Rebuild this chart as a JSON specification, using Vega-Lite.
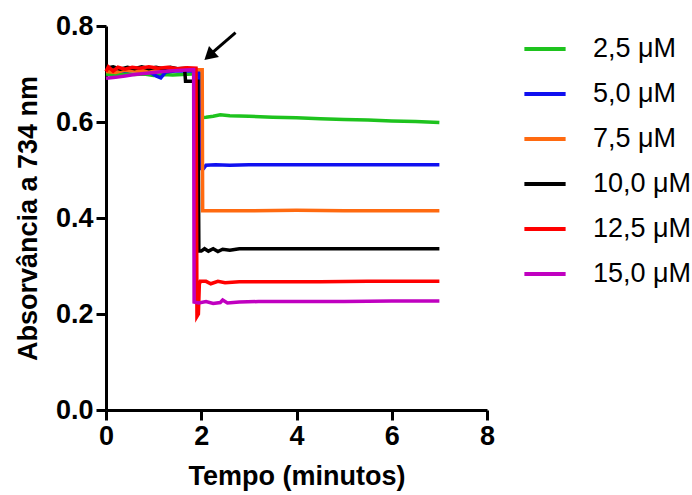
{
  "$schema": "https://vega.github.io/schema/vega-lite/v6.json",
  "width": 381,
  "height": 384,
  "autosize": "none",
  "padding": {"left": 106, "top": 26, "right": 205, "bottom": 85},
  "background": "white",
  "config": {
    "view": {"stroke": null},
    "font": "Liberation Sans",
    "axis": {
      "grid": false,
      "domainColor": "black",
      "domainWidth": 3,
      "tickColor": "black",
      "tickWidth": 3,
      "tickSize": 10,
      "labelFont": "Liberation Sans",
      "labelFontWeight": "bold",
      "labelFontSize": 27,
      "labelColor": "black",
      "labelPadding": 3,
      "labelFlush": false,
      "labelOverlap": false,
      "titleFont": "Liberation Sans",
      "titleFontWeight": "bold",
      "titleFontSize": 27,
      "titleColor": "black"
    },
    "legend": {
      "orient": "none",
      "legendX": 416,
      "legendY": 0,
      "title": null,
      "symbolType": "stroke",
      "symbolStrokeWidth": 4,
      "symbolSize": 1700,
      "labelFont": "Liberation Sans",
      "labelFontSize": 27,
      "labelColor": "black",
      "labelOffset": 25,
      "rowPadding": 9
    }
  },
  "datasets": {
    "curves": [
      {"c": "2,5 μM", "t": 0, "a": 0.700}, {"c": "2,5 μM", "t": 0.2, "a": 0.698}, {"c": "2,5 μM", "t": 0.4, "a": 0.701}, {"c": "2,5 μM", "t": 0.6, "a": 0.699}, {"c": "2,5 μM", "t": 0.8, "a": 0.700}, {"c": "2,5 μM", "t": 1.0, "a": 0.697}, {"c": "2,5 μM", "t": 1.2, "a": 0.699}, {"c": "2,5 μM", "t": 1.4, "a": 0.698}, {"c": "2,5 μM", "t": 1.6, "a": 0.699}, {"c": "2,5 μM", "t": 1.8, "a": 0.700}, {"c": "2,5 μM", "t": 1.98, "a": 0.700}, {"c": "2,5 μM", "t": 2.0, "a": 0.609}, {"c": "2,5 μM", "t": 2.1, "a": 0.610}, {"c": "2,5 μM", "t": 2.25, "a": 0.612}, {"c": "2,5 μM", "t": 2.4, "a": 0.615}, {"c": "2,5 μM", "t": 2.6, "a": 0.613}, {"c": "2,5 μM", "t": 3.0, "a": 0.612}, {"c": "2,5 μM", "t": 3.5, "a": 0.610}, {"c": "2,5 μM", "t": 4.0, "a": 0.609}, {"c": "2,5 μM", "t": 4.5, "a": 0.607}, {"c": "2,5 μM", "t": 5.0, "a": 0.605}, {"c": "2,5 μM", "t": 5.5, "a": 0.604}, {"c": "2,5 μM", "t": 6.0, "a": 0.602}, {"c": "2,5 μM", "t": 6.5, "a": 0.601}, {"c": "2,5 μM", "t": 7.0, "a": 0.599},

      {"c": "5,0 μM", "t": 0, "a": 0.707}, {"c": "5,0 μM", "t": 0.3, "a": 0.706}, {"c": "5,0 μM", "t": 0.6, "a": 0.708}, {"c": "5,0 μM", "t": 0.9, "a": 0.705}, {"c": "5,0 μM", "t": 1.05, "a": 0.696}, {"c": "5,0 μM", "t": 1.15, "a": 0.692}, {"c": "5,0 μM", "t": 1.25, "a": 0.704}, {"c": "5,0 μM", "t": 1.5, "a": 0.707}, {"c": "5,0 μM", "t": 1.8, "a": 0.706}, {"c": "5,0 μM", "t": 1.95, "a": 0.707}, {"c": "5,0 μM", "t": 1.97, "a": 0.503}, {"c": "5,0 μM", "t": 2.05, "a": 0.503}, {"c": "5,0 μM", "t": 2.1, "a": 0.510}, {"c": "5,0 μM", "t": 2.3, "a": 0.511}, {"c": "5,0 μM", "t": 2.6, "a": 0.510}, {"c": "5,0 μM", "t": 3.0, "a": 0.511}, {"c": "5,0 μM", "t": 4.0, "a": 0.511}, {"c": "5,0 μM", "t": 5.0, "a": 0.511}, {"c": "5,0 μM", "t": 6.0, "a": 0.511}, {"c": "5,0 μM", "t": 7.0, "a": 0.511},

      {"c": "7,5 μM", "t": 0, "a": 0.705}, {"c": "7,5 μM", "t": 0.2, "a": 0.703}, {"c": "7,5 μM", "t": 0.4, "a": 0.708}, {"c": "7,5 μM", "t": 0.7, "a": 0.706}, {"c": "7,5 μM", "t": 1.0, "a": 0.709}, {"c": "7,5 μM", "t": 1.3, "a": 0.708}, {"c": "7,5 μM", "t": 1.6, "a": 0.710}, {"c": "7,5 μM", "t": 1.9, "a": 0.709}, {"c": "7,5 μM", "t": 2.02, "a": 0.709}, {"c": "7,5 μM", "t": 2.03, "a": 0.415}, {"c": "7,5 μM", "t": 3.0, "a": 0.415}, {"c": "7,5 μM", "t": 4.0, "a": 0.416}, {"c": "7,5 μM", "t": 5.0, "a": 0.415}, {"c": "7,5 μM", "t": 6.0, "a": 0.415}, {"c": "7,5 μM", "t": 7.0, "a": 0.415},

      {"c": "10,0 μM", "t": 0, "a": 0.712}, {"c": "10,0 μM", "t": 0.15, "a": 0.715}, {"c": "10,0 μM", "t": 0.3, "a": 0.710}, {"c": "10,0 μM", "t": 0.45, "a": 0.714}, {"c": "10,0 μM", "t": 0.6, "a": 0.711}, {"c": "10,0 μM", "t": 0.75, "a": 0.715}, {"c": "10,0 μM", "t": 0.9, "a": 0.711}, {"c": "10,0 μM", "t": 1.05, "a": 0.714}, {"c": "10,0 μM", "t": 1.2, "a": 0.711}, {"c": "10,0 μM", "t": 1.35, "a": 0.714}, {"c": "10,0 μM", "t": 1.5, "a": 0.711}, {"c": "10,0 μM", "t": 1.65, "a": 0.712}, {"c": "10,0 μM", "t": 1.67, "a": 0.685}, {"c": "10,0 μM", "t": 1.85, "a": 0.685}, {"c": "10,0 μM", "t": 1.93, "a": 0.685}, {"c": "10,0 μM", "t": 1.95, "a": 0.331}, {"c": "10,0 μM", "t": 2.0, "a": 0.331}, {"c": "10,0 μM", "t": 2.07, "a": 0.336}, {"c": "10,0 μM", "t": 2.15, "a": 0.331}, {"c": "10,0 μM", "t": 2.25, "a": 0.336}, {"c": "10,0 μM", "t": 2.35, "a": 0.330}, {"c": "10,0 μM", "t": 2.45, "a": 0.335}, {"c": "10,0 μM", "t": 2.6, "a": 0.333}, {"c": "10,0 μM", "t": 2.8, "a": 0.336}, {"c": "10,0 μM", "t": 3.5, "a": 0.336}, {"c": "10,0 μM", "t": 4.5, "a": 0.336}, {"c": "10,0 μM", "t": 5.5, "a": 0.336}, {"c": "10,0 μM", "t": 7.0, "a": 0.336},

      {"c": "12,5 μM", "t": 0, "a": 0.705}, {"c": "12,5 μM", "t": 0.05, "a": 0.715}, {"c": "12,5 μM", "t": 0.15, "a": 0.706}, {"c": "12,5 μM", "t": 0.25, "a": 0.714}, {"c": "12,5 μM", "t": 0.4, "a": 0.710}, {"c": "12,5 μM", "t": 0.55, "a": 0.714}, {"c": "12,5 μM", "t": 0.7, "a": 0.712}, {"c": "12,5 μM", "t": 0.9, "a": 0.715}, {"c": "12,5 μM", "t": 1.1, "a": 0.712}, {"c": "12,5 μM", "t": 1.3, "a": 0.714}, {"c": "12,5 μM", "t": 1.5, "a": 0.711}, {"c": "12,5 μM", "t": 1.7, "a": 0.713}, {"c": "12,5 μM", "t": 1.89, "a": 0.712}, {"c": "12,5 μM", "t": 1.91, "a": 0.195}, {"c": "12,5 μM", "t": 1.94, "a": 0.200}, {"c": "12,5 μM", "t": 1.96, "a": 0.262}, {"c": "12,5 μM", "t": 1.98, "a": 0.268}, {"c": "12,5 μM", "t": 2.1, "a": 0.268}, {"c": "12,5 μM", "t": 2.2, "a": 0.263}, {"c": "12,5 μM", "t": 2.35, "a": 0.268}, {"c": "12,5 μM", "t": 2.5, "a": 0.265}, {"c": "12,5 μM", "t": 2.8, "a": 0.267}, {"c": "12,5 μM", "t": 3.5, "a": 0.267}, {"c": "12,5 μM", "t": 4.5, "a": 0.267}, {"c": "12,5 μM", "t": 5.5, "a": 0.268}, {"c": "12,5 μM", "t": 7.0, "a": 0.268},

      {"c": "15,0 μM", "t": 0, "a": 0.691}, {"c": "15,0 μM", "t": 0.2, "a": 0.693}, {"c": "15,0 μM", "t": 0.4, "a": 0.696}, {"c": "15,0 μM", "t": 0.6, "a": 0.699}, {"c": "15,0 μM", "t": 0.8, "a": 0.701}, {"c": "15,0 μM", "t": 1.0, "a": 0.703}, {"c": "15,0 μM", "t": 1.2, "a": 0.705}, {"c": "15,0 μM", "t": 1.4, "a": 0.707}, {"c": "15,0 μM", "t": 1.6, "a": 0.708}, {"c": "15,0 μM", "t": 1.84, "a": 0.709}, {"c": "15,0 μM", "t": 1.85, "a": 0.225}, {"c": "15,0 μM", "t": 1.95, "a": 0.223}, {"c": "15,0 μM", "t": 2.1, "a": 0.226}, {"c": "15,0 μM", "t": 2.25, "a": 0.222}, {"c": "15,0 μM", "t": 2.4, "a": 0.224}, {"c": "15,0 μM", "t": 2.45, "a": 0.229}, {"c": "15,0 μM", "t": 2.55, "a": 0.223}, {"c": "15,0 μM", "t": 2.8, "a": 0.225}, {"c": "15,0 μM", "t": 3.2, "a": 0.226}, {"c": "15,0 μM", "t": 4.0, "a": 0.226}, {"c": "15,0 μM", "t": 5.0, "a": 0.226}, {"c": "15,0 μM", "t": 6.0, "a": 0.227}, {"c": "15,0 μM", "t": 7.0, "a": 0.227}
    ],
    "arrow": [{"t": 2.72, "a": 0.786, "t2": 2.24, "a2": 0.745}],
    "head": [{"t": 2.2, "a": 0.741}]
  },
  "layer": [
    {
      "data": {"name": "curves"},
      "mark": {"type": "line", "strokeWidth": 3.5, "interpolate": "linear"},
      "encoding": {
        "x": {"field": "t", "type": "quantitative", "scale": {"domain": [0, 8], "nice": false}, "axis": {"values": [0, 2, 4, 6, 8], "format": "d", "title": "Tempo (minutos)", "titlePadding": 14}},
        "y": {"field": "a", "type": "quantitative", "scale": {"domain": [0, 0.8], "nice": false}, "axis": {"values": [0, 0.2, 0.4, 0.6, 0.8], "format": ".1f", "title": "Absorvância a 734 nm", "titlePadding": 13}},
        "color": {"field": "c", "type": "nominal", "sort": ["2,5 μM", "5,0 μM", "7,5 μM", "10,0 μM", "12,5 μM", "15,0 μM"], "scale": {"domain": ["2,5 μM", "5,0 μM", "7,5 μM", "10,0 μM", "12,5 μM", "15,0 μM"], "range": ["#1ec31e", "#1010f0", "#ff6a10", "#000000", "#ff0000", "#c000c0"]}},
        "order": {"field": "t", "type": "quantitative"}
      }
    },
    {
      "data": {"name": "arrow"},
      "mark": {"type": "rule", "strokeWidth": 3, "color": "black"},
      "encoding": {
        "x": {"field": "t", "type": "quantitative"},
        "y": {"field": "a", "type": "quantitative"},
        "x2": {"field": "t2"},
        "y2": {"field": "a2"}
      }
    },
    {
      "data": {"name": "head"},
      "mark": {"type": "point", "shape": "triangle", "filled": true, "color": "black", "opacity": 1, "size": 220, "angle": 228},
      "encoding": {
        "x": {"field": "t", "type": "quantitative"},
        "y": {"field": "a", "type": "quantitative"}
      }
    }
  ]
}
